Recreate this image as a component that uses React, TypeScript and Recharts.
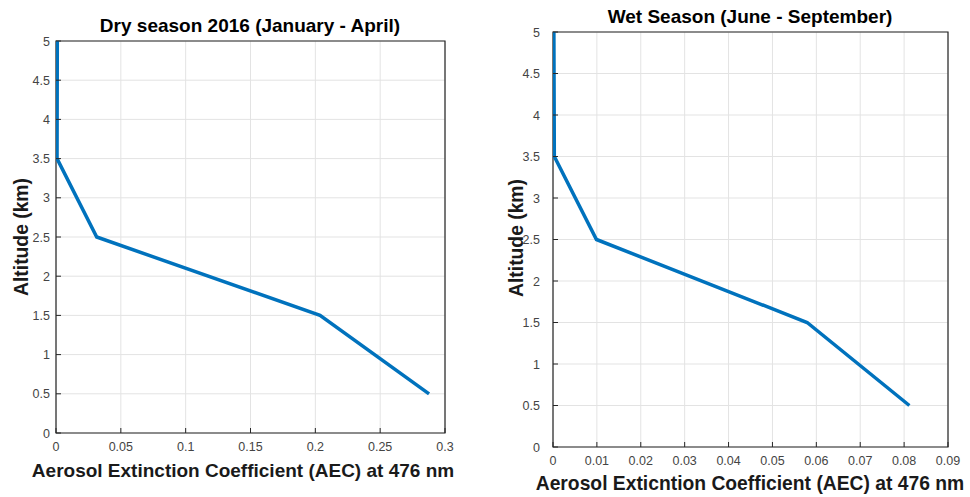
import React from "react";
import { LineChart, Line, XAxis, YAxis, CartesianGrid, ReferenceArea } from "recharts";

// altitude levels (km) and AEC at 476 nm for each season
const dryAltitude = [5, 3.5, 2.5, 1.5, 0.5];
const dryAec = [0.001, 0.0008, 0.0314, 0.2036, 0.2877];
const wetAltitude = [5, 3.5, 2.5, 1.5, 0.5];
const wetAec = [0.0002, 0.0003, 0.0099, 0.0579, 0.0812];

const dryTicksX = [0, 0.05, 0.1, 0.15, 0.2, 0.25, 0.3];
const wetTicksX = [0, 0.01, 0.02, 0.03, 0.04, 0.05, 0.06, 0.07, 0.08, 0.09];
const ticksY = [0, 0.5, 1, 1.5, 2, 2.5, 3, 3.5, 4, 4.5, 5];

const dryData = dryAltitude.map((alt, i) => ({ alt, aec: dryAec[i] }));
const wetData = wetAltitude.map((alt, i) => ({ alt, aec: wetAec[i] }));

const FONT = "'Liberation Sans', Arial, Helvetica, sans-serif";
const FRAME = "#262626";
const TICK_TEXT = "#444";
const TICK_LEN = 5;

type Margin = { top: number; right: number; bottom: number; left: number };

type ProfileProps = {
  data: { alt: number; aec: number }[];
  xMax: number;
  xTicks: number[];
  margin: Margin;
  yLabelGap: number;
};

// inward tick marks, MATLAB style; labels drawn outside the box
const bottomTick = (p: any) => (
  <g>
    <line x1={p.x} x2={p.x} y1={p.y} y2={p.y - TICK_LEN} stroke={FRAME} />
    <text x={p.x} y={p.y + 18} textAnchor="middle" fontSize={12.5} fill={TICK_TEXT} fontFamily={FONT}>
      {p.payload.value}
    </text>
  </g>
);

const topTick = (p: any) => (
  <line x1={p.x} x2={p.x} y1={p.y} y2={p.y + TICK_LEN} stroke={FRAME} />
);

const rightTick = (p: any) => (
  <line x1={p.x} x2={p.x - TICK_LEN} y1={p.y} y2={p.y} stroke={FRAME} />
);

const makeLeftTick = (gap: number) => (p: any) => (
  <g>
    <line x1={p.x} x2={p.x + TICK_LEN} y1={p.y} y2={p.y} stroke={FRAME} />
    <text x={p.x - gap} y={p.y + 4.5} textAnchor="end" fontSize={12.5} fill={TICK_TEXT} fontFamily={FONT}>
      {p.payload.value}
    </text>
  </g>
);

function Profile({ data, xMax, xTicks, margin, yLabelGap }: ProfileProps) {
  return (
    <LineChart width={480} height={497} data={data} margin={margin}>
      <CartesianGrid stroke="#e3e3e3" strokeWidth={1} />
      <XAxis
        type="number"
        dataKey="aec"
        domain={[0, xMax]}
        ticks={xTicks}
        allowDataOverflow
        height={20}
        tickSize={0}
        tickMargin={0}
        tickLine={false}
        axisLine={false}
        tick={bottomTick}
        interval={0}
      />
      <XAxis
        xAxisId="top"
        orientation="top"
        type="number"
        dataKey="aec"
        domain={[0, xMax]}
        ticks={xTicks}
        allowDataOverflow
        height={0}
        tickSize={0}
        tickMargin={0}
        tickLine={false}
        axisLine={false}
        tick={topTick}
        interval={0}
      />
      <YAxis
        type="number"
        domain={[0, 5]}
        ticks={ticksY}
        width={30}
        tickSize={0}
        tickMargin={0}
        tickLine={false}
        axisLine={false}
        tick={makeLeftTick(yLabelGap)}
        interval={0}
      />
      <YAxis
        yAxisId="right"
        orientation="right"
        type="number"
        domain={[0, 5]}
        ticks={ticksY}
        width={0}
        tickSize={0}
        tickMargin={0}
        tickLine={false}
        axisLine={false}
        tick={rightTick}
        interval={0}
      />
      {/* axes box */}
      <ReferenceArea x1={0} x2={xMax} y1={0} y2={5} fill="none" stroke={FRAME} strokeWidth={1.2} />
      <Line
        type="linear"
        dataKey="alt"
        stroke="#0072BD"
        strokeWidth={3.5}
        dot={false}
        isAnimationActive={false}
      />
    </LineChart>
  );
}

export default function App() {
  return (
    <div style={{ position: "absolute", left: 0, top: 0, width: 970, height: 497, background: "#fff" }}>
      <div style={{ position: "absolute", left: 0, top: 0 }}>
        <Profile
          data={dryData}
          xMax={0.3}
          xTicks={dryTicksX}
          yLabelGap={6}
          margin={{ top: 41, right: 35, bottom: 44, left: 26 }}
        />
      </div>
      <div style={{ position: "absolute", left: 490, top: 0 }}>
        <Profile
          data={wetData}
          xMax={0.09}
          xTicks={wetTicksX}
          yLabelGap={13}
          margin={{ top: 32, right: 22, bottom: 30, left: 33 }}
        />
      </div>
      <svg
        width={970}
        height={497}
        style={{ position: "absolute", left: 0, top: 0, pointerEvents: "none" }}
        fontFamily={FONT}
        fontWeight="bold"
        fill="#000"
      >
        <text x={250} y={32} textAnchor="middle" fontSize={19}>
          Dry season 2016 (January - April)
        </text>
        <text x={750} y={23} textAnchor="middle" fontSize={19}>
          Wet Season (June - September)
        </text>
        <text x={243} y={477} textAnchor="middle" fontSize={19} fill="#1a1a1a">
          Aerosol Extinction Coefficient (AEC) at 476 nm
        </text>
        <text x={750} y={490} textAnchor="middle" fontSize={19.3} fill="#1a1a1a">
          Aerosol Exticntion Coefficient (AEC) at 476 nm
        </text>
        <text transform="translate(28,237) rotate(-90)" textAnchor="middle" fontSize={19.3} fill="#1a1a1a">
          Altitude (km)
        </text>
        <text transform="translate(523,238) rotate(-90)" textAnchor="middle" fontSize={19.3} fill="#1a1a1a">
          Altitude (km)
        </text>
      </svg>
    </div>
  );
}
